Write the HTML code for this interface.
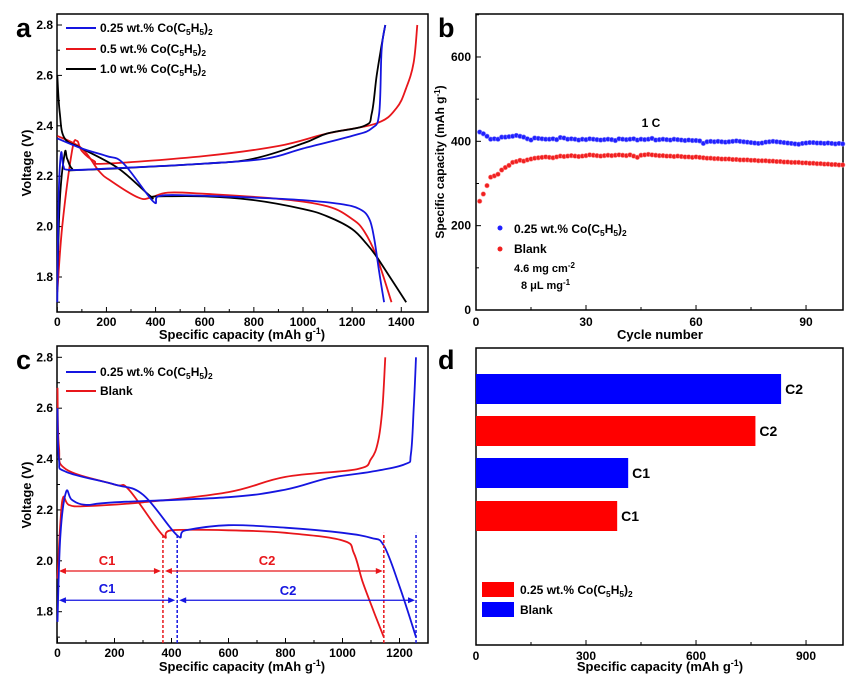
<!DOCTYPE html>
<html><head><meta charset="utf-8"><style>
html,body{margin:0;padding:0;background:#fff}
svg{display:block;font-family:"Liberation Sans",Arial,sans-serif;font-weight:bold}
</style></head><body>
<svg id="fig" width="846" height="676" viewBox="0 0 846 676" xmlns="http://www.w3.org/2000/svg"></svg>
<script>
// ---------- Panel a data (capacity, voltage) ----------
const aBlueDisCap=[0,100,200,270,390,410,500,800,1000,1150,1230,1270,1290,1310,1330];
const aBlueDisV=[2.35,2.31,2.28,2.25,2.10,2.12,2.125,2.115,2.105,2.09,2.07,2.03,1.95,1.82,1.70];
const aBlueChCap=[0,5,15,25,50,200,600,850,1000,1200,1280,1310,1320,1335];
const aBlueChV=[1.70,2.1,2.29,2.24,2.225,2.23,2.25,2.27,2.31,2.36,2.39,2.45,2.7,2.8];
const aRedDisCap=[0,100,170,220,330,380,450,600,900,1100,1200,1250,1300,1360];
const aRedDisV=[2.36,2.31,2.22,2.18,2.115,2.115,2.135,2.13,2.11,2.08,2.03,1.98,1.88,1.70];
const aRedChCap=[0,20,60,80,100,150,200,600,900,1100,1300,1380,1420,1450,1465];
const aRedChV=[1.74,2.0,2.3,2.34,2.30,2.26,2.25,2.28,2.32,2.37,2.41,2.47,2.55,2.65,2.8];
const aBlkDisCap=[0,10,30,100,250,380,400,600,800,1000,1100,1200,1260,1300,1360,1420];
const aBlkDisV=[2.6,2.45,2.35,2.31,2.23,2.12,2.12,2.12,2.105,2.07,2.04,1.99,1.93,1.88,1.79,1.70];
const aBlkChCap=[0,10,30,40,60,100,600,800,1000,1100,1250,1280,1300,1320,1335];
const aBlkChV=[1.75,2.1,2.29,2.27,2.23,2.225,2.25,2.27,2.33,2.37,2.40,2.45,2.6,2.72,2.8];
const aXTicks=[0,200,400,600,800,1000,1200,1400];
const vTicks=[1.8,2.0,2.2,2.4,2.6,2.8];
// ---------- Panel c data ----------
const cBlueDisCap=[0,5,30,200,300,420,450,600,800,1000,1100,1145,1200,1258];
const cBlueDisV=[2.6,2.4,2.35,2.30,2.26,2.10,2.12,2.14,2.13,2.11,2.09,2.06,1.90,1.70];
const cBlueChCap=[0,10,30,50,100,200,600,800,950,1100,1220,1240,1250,1258];
const cBlueChV=[1.76,2.1,2.27,2.24,2.22,2.23,2.25,2.28,2.325,2.35,2.38,2.42,2.6,2.8];
const cRedDisCap=[0,5,30,200,250,370,400,600,800,1000,1040,1070,1110,1145];
const cRedDisV=[2.68,2.45,2.36,2.30,2.28,2.10,2.12,2.12,2.11,2.08,2.03,1.92,1.80,1.70];
const cRedChCap=[0,10,20,40,100,300,600,800,1050,1100,1125,1140,1150];
const cRedChV=[1.93,2.15,2.25,2.22,2.215,2.23,2.27,2.33,2.36,2.40,2.47,2.6,2.8];
const cXTicks=[0,200,400,600,800,1000,1200];
const cRedMarks=[370,1145];
const cBlueMarks=[420,1258];
// ---------- Panel b data ----------
const bBlue=[422,418,412,405,406,405,410,410,411,412,414,412,410,406,403,408,407,406,405,405,406,404,409,408,405,406,405,403,405,404,406,405,404,403,404,405,404,402,406,405,404,405,406,403,405,404,405,407,403,404,405,404,403,405,404,403,402,403,402,402,401,395,399,400,399,400,399,398,399,400,401,400,399,398,397,396,395,396,398,399,400,399,398,397,396,395,394,393,395,396,397,397,396,396,395,396,395,394,395,394];
const bRed=[258,275,295,315,318,322,332,338,343,350,352,355,353,356,358,360,361,362,363,362,361,363,365,364,365,366,365,364,365,366,368,367,366,365,366,367,366,367,368,367,366,368,365,362,367,368,369,368,367,366,366,365,365,364,365,364,363,363,362,363,362,361,360,360,359,359,358,358,358,357,357,356,356,356,355,355,354,354,354,353,353,352,352,351,351,350,350,350,349,349,348,348,347,347,346,346,345,345,344,344];
const bXTicks=[0,30,60,90];
const bYTicks=[0,200,400,600];
// ---------- Panel d data ----------
const dLabels=["C2","C2","C1","C1"];
const dValues=[832,762,415,385];
const dColors=["#0000ff","#ff0000","#0000ff","#ff0000"];
const dXTicks=[0,300,600,900];

const NS="http://www.w3.org/2000/svg";
const svg=document.getElementById('fig');
function el(tag,attrs,parent){const e=document.createElementNS(NS,tag);for(const k in attrs)e.setAttribute(k,attrs[k]);(parent||svg).appendChild(e);return e;}
function txt(x,y,s,size,anchor,fill,parent){const t=el('text',{x:x,y:y,'font-size':size,'text-anchor':anchor||'start',fill:fill||'#000'},parent);t.textContent=s;return t;}
function coText(x,y,prefix,size,parent){
  const t=el('text',{x:x,y:y,'font-size':size},parent);
  const sub=size*0.7;
  const parts=[[prefix+"Co(C",size,0],["5",sub,3],["H",size,-3],["5",sub,3],[")",size,-3],["2",sub,3]];
  parts.forEach(p=>{const s=el('tspan',{'font-size':p[1],dy:p[2]},t);s.textContent=p[0];});
  return t;
}
function smoothPath(pts){
  let d='M'+pts[0][0]+','+pts[0][1];
  for(let i=0;i<pts.length-1;i++){
    const p0=pts[Math.max(0,i-1)],p1=pts[i],p2=pts[i+1],p3=pts[Math.min(pts.length-1,i+2)];
    const t=0.18;
    const c1=[p1[0]+(p2[0]-p0[0])*t,p1[1]+(p2[1]-p0[1])*t];
    const c2=[p2[0]-(p3[0]-p1[0])*t,p2[1]-(p3[1]-p1[1])*t];
    d+=` C${c1[0].toFixed(1)},${c1[1].toFixed(1)} ${c2[0].toFixed(1)},${c2[1].toFixed(1)} ${p2[0].toFixed(1)},${p2[1].toFixed(1)}`;
  }
  return d;
}
function poly(xs,ys,fx,fy,col,g,name){
  const pts=xs.map((x,i)=>[fx(x),fy(ys[i])]);
  const p=el('path',{d:smoothPath(pts),fill:'none',stroke:col,'stroke-width':1.8,'stroke-linejoin':'round'},g);
  
  
  return p;}

// ===== Panel A =====
const A={l:57,r:428,t:14,b:312};
const ax=c=>57.3+c*0.2457, ay=v=>277-(v-1.8)*252;
const gA=el('g',{});
el('rect',{x:A.l,y:A.t,width:A.r-A.l,height:A.b-A.t,fill:'none',stroke:'#000','stroke-width':1.5},gA);
aXTicks.forEach(v=>{el('line',{x1:ax(v),x2:ax(v),y1:A.b,y2:A.b-5,stroke:'#000'},gA);txt(ax(v),326,String(v),12,'middle',null,gA);});
aXTicks.slice(0,-1).forEach(v=>{el('line',{x1:ax(v+100),x2:ax(v+100),y1:A.b,y2:A.b-3,stroke:'#000'},gA);});
vTicks.forEach(v=>{el('line',{x1:A.l,x2:A.l+5,y1:ay(v),y2:ay(v),stroke:'#000'},gA);txt(A.l-4,ay(v)+4,v.toFixed(1),12,'end',null,gA);
  el('line',{x1:A.l,x2:A.l+3,y1:ay(v-0.1),y2:ay(v-0.1),stroke:'#000'},gA);});
poly(aRedDisCap,aRedDisV,ax,ay,'#e8161b',gA,'a-red-discharge');
poly(aRedChCap,aRedChV,ax,ay,'#e8161b',gA,'a-red-charge');
poly(aBlkDisCap,aBlkDisV,ax,ay,'#000',gA,'a-black-discharge');
poly(aBlkChCap,aBlkChV,ax,ay,'#000',gA,'a-black-charge');
poly(aBlueDisCap,aBlueDisV,ax,ay,'#1515e0',gA,'a-blue-discharge');
poly(aBlueChCap,aBlueChV,ax,ay,'#1515e0',gA,'a-blue-charge');
[['#1515e0','0.25 wt.% ',28],['#e8161b',' 0.5  wt.% ',49],['#000',' 1.0  wt.% ',69]].forEach(([c,p,y])=>{
  el('line',{x1:66,x2:96,y1:y,y2:y,stroke:c,'stroke-width':2},gA);coText(100,y+4,p,12,gA);});
txt(16,37,'a',27,'start',null,gA);
const ya=txt(0,0,'Voltage (V)',13,'middle',null,gA);ya.setAttribute('transform','translate(31,163) rotate(-90)');
txt(242,339,'Specific capacity (mAh g',13,'middle',null,gA).innerHTML+='<tspan font-size="9" dy="-5">-1</tspan><tspan dy="5">)</tspan>';

// ===== Panel C =====
const C={l:57,r:428,t:346,b:643};
const cx=c=>57.5+c*0.285, cy=v=>611.7-(v-1.8)*254.4;
const gC=el('g',{});
el('rect',{x:C.l,y:C.t,width:C.r-C.l,height:C.b-C.t,fill:'none',stroke:'#000','stroke-width':1.5},gC);
cXTicks.forEach(v=>{el('line',{x1:cx(v),x2:cx(v),y1:C.b,y2:C.b-5,stroke:'#000'},gC);txt(cx(v),657,String(v),12,'middle',null,gC);
  el('line',{x1:cx(v+100),x2:cx(v+100),y1:C.b,y2:C.b-3,stroke:'#000'},gC);});
vTicks.forEach(v=>{el('line',{x1:C.l,x2:C.l+5,y1:cy(v),y2:cy(v),stroke:'#000'},gC);txt(C.l-4,cy(v)+4,v.toFixed(1),12,'end',null,gC);
  el('line',{x1:C.l,x2:C.l+3,y1:cy(v-0.1),y2:cy(v-0.1),stroke:'#000'},gC);});
poly(cRedDisCap,cRedDisV,cx,cy,'#e8161b',gC,'c-red-discharge');
poly(cRedChCap,cRedChV,cx,cy,'#e8161b',gC,'c-red-charge');
poly(cBlueDisCap,cBlueDisV,cx,cy,'#1515e0',gC,'c-blue-discharge');
poly(cBlueChCap,cBlueChV,cx,cy,'#1515e0',gC,'c-blue-charge');
cRedMarks.forEach(v=>el('line',{x1:cx(v),x2:cx(v),y1:C.b,y2:cy(2.11),stroke:'#e8161b','stroke-width':1.5,'stroke-dasharray':'3,2'},gC));
cBlueMarks.forEach(v=>el('line',{x1:cx(v),x2:cx(v),y1:C.b,y2:cy(2.11),stroke:'#1515e0','stroke-width':1.5,'stroke-dasharray':'3,2'},gC));
function arrow(x1,x2,y,col,g){el('line',{x1:x1+4,x2:x2-4,y1:y,y2:y,stroke:col,'stroke-width':1.3},g);
  el('polygon',{points:`${x1},${y} ${x1+7},${y-3} ${x1+7},${y+3}`,fill:col},g);el('polygon',{points:`${x2},${y} ${x2-7},${y-3} ${x2-7},${y+3}`,fill:col},g);}
arrow(cx(5),cx(cRedMarks[0])-2,cy(1.96),'#e8161b',gC);arrow(cx(cRedMarks[0])+2,cx(cRedMarks[1])-1,cy(1.96),'#e8161b',gC);
arrow(cx(5),cx(cBlueMarks[0])-2,cy(1.845),'#1515e0',gC);arrow(cx(cBlueMarks[0])+2,cx(cBlueMarks[1])-1,cy(1.845),'#1515e0',gC);
txt(107,565,'C1',13,'middle','#e8161b',gC);txt(267,565,'C2',13,'middle','#e8161b',gC);
txt(107,593,'C1',13,'middle','#1515e0',gC);txt(288,595,'C2',13,'middle','#1515e0',gC);
el('line',{x1:66,x2:96,y1:372,y2:372,stroke:'#1515e0','stroke-width':2},gC);coText(100,376,'0.25 wt.% ',12,gC);
el('line',{x1:66,x2:96,y1:391,y2:391,stroke:'#e8161b','stroke-width':2},gC);txt(100,395,'Blank',12,'start',null,gC);
txt(16,369,'c',27,'start',null,gC);
const yc=txt(0,0,'Voltage (V)',13,'middle',null,gC);yc.setAttribute('transform','translate(31,495) rotate(-90)');
txt(242,671,'Specific capacity (mAh g',13,'middle',null,gC).innerHTML+='<tspan font-size="9" dy="-5">-1</tspan><tspan dy="5">)</tspan>';

// ===== Panel B =====
const B={l:476,r:843,t:14,b:310};
const bx=n=>476+n*3.667, by=v=>310-v*0.4217;
const gB=el('g',{});
el('rect',{x:B.l,y:B.t,width:B.r-B.l,height:B.b-B.t,fill:'none',stroke:'#000','stroke-width':1.5},gB);
bXTicks.forEach(v=>{el('line',{x1:bx(v),x2:bx(v),y1:B.b,y2:B.b-5,stroke:'#000'},gB);txt(bx(v),326,String(v),12,'middle',null,gB);
  el('line',{x1:bx(v+15),x2:bx(v+15),y1:B.b,y2:B.b-3,stroke:'#000'},gB);});
bYTicks.forEach(v=>{el('line',{x1:B.l,x2:B.l+5,y1:by(v),y2:by(v),stroke:'#000'},gB);txt(B.l-5,by(v)+4,String(v),12,'end',null,gB);
  el('line',{x1:B.l,x2:B.l+3,y1:by(v+100),y2:by(v+100),stroke:'#000'},gB);});
bBlue.forEach((v,i)=>{const c=el('circle',{cx:bx(i+1),cy:by(v),r:2.3,fill:'#2020ff',stroke:'#8a8aff','stroke-width':0.6},gB);
  
  });
bRed.forEach((v,i)=>{const c=el('circle',{cx:bx(i+1),cy:by(v),r:2.3,fill:'#f02020',stroke:'#ff9090','stroke-width':0.6},gB);
  
  });
txt(651,127,'1 C',12,'middle',null,gB);
el('circle',{cx:500,cy:228,r:2.5,fill:'#2020ff'},gB);coText(514,233,'0.25 wt.% ',12,gB);
el('circle',{cx:500,cy:249,r:2.5,fill:'#f02020'},gB);txt(514,253,'Blank',12,'start',null,gB);
txt(514,272,'4.6 mg cm',11,'start',null,gB).innerHTML+='<tspan font-size="8" dy="-4">-2</tspan>';
txt(521,289,'8  μL mg',11,'start',null,gB).innerHTML+='<tspan font-size="8" dy="-4">-1</tspan>';
txt(438,37,'b',27,'start',null,gB);
const yb=txt(0,0,'Specific capacity (mAh g',12,'middle',null,gB);yb.setAttribute('transform','translate(444,162) rotate(-90)');yb.innerHTML+='<tspan font-size="8" dy="-4">-1</tspan><tspan dy="4">)</tspan>';
txt(660,339,'Cycle number',13,'middle',null,gB);

// ===== Panel D =====
const D={l:476,r:843,t:348,b:645};
const dx=v=>476+v*0.3667;
const dBarY=[374,416,458,501], dBarH=30;
const gD=el('g',{});
el('rect',{x:D.l,y:D.t,width:D.r-D.l,height:D.b-D.t,fill:'none',stroke:'#000','stroke-width':1.5},gD);
dXTicks.forEach(v=>{el('line',{x1:dx(v),x2:dx(v),y1:D.b,y2:D.b-5,stroke:'#000'},gD);txt(dx(v),660,String(v),12,'middle',null,gD);
  el('line',{x1:dx(v+150),x2:dx(v+150),y1:D.b,y2:D.b-3,stroke:'#000'},gD);});
dValues.forEach((v,i)=>{const r=el('rect',{x:dx(0),y:dBarY[i],width:dx(v)-dx(0),height:dBarH,fill:dColors[i]},gD);
  
  
  txt(dx(v)+4,dBarY[i]+20,dLabels[i],14,'start',null,gD);});
el('rect',{x:482,y:582,width:32,height:15,fill:'#ff0000'},gD);coText(520,594,'0.25 wt.% ',12,gD);
el('rect',{x:482,y:602,width:32,height:15,fill:'#0000ff'},gD);txt(520,614,'Blank',12,'start',null,gD);
txt(438,369,'d',27,'start',null,gD);
txt(660,671,'Specific capacity (mAh g',13,'middle',null,gD).innerHTML+='<tspan font-size="9" dy="-5">-1</tspan><tspan dy="5">)</tspan>';
</script>
</body></html>
